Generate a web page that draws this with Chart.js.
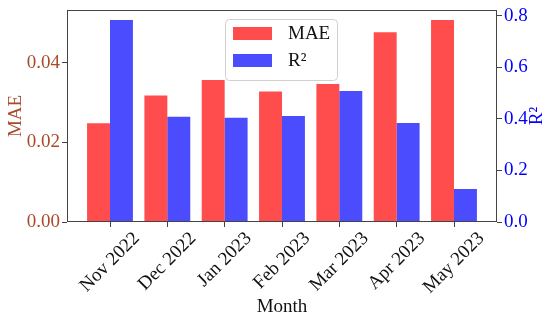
<!DOCTYPE html>
<html lang="en">
<head>
<meta charset="UTF-8">
<script src="https://cdn.jsdelivr.net/npm/chart.js"></script>
<title>MAE y R² por mes</title>
<style>
  html, body { margin: 0; padding: 0; background: #fff; }
</style>
</head>
<body>
<canvas id="grafico" width="550" height="322"></canvas>
<script>
// datos
const meses = ['Nov 2022', 'Dec 2022', 'Jan 2023', 'Feb 2023', 'Mar 2023', 'Apr 2023', 'May 2023'];
const mae = [0.0248, 0.0318, 0.0357, 0.0328, 0.0347, 0.0477, 0.0508];
const r2 = [0.783, 0.408, 0.404, 0.411, 0.508, 0.384, 0.128];
const ticksMae = [0, 0.02, 0.04];
const ticksR2 = [0, 0.2, 0.4, 0.6, 0.8];

const fuente = '"Liberation Serif", "Times New Roman", serif';
const rojo = 'rgba(255, 0, 0, 0.7)';
const azul = 'rgba(0, 0, 255, 0.7)';
const colorMae = '#a94a2a';
const colorR2 = '#0000ff';

function texto(ctx, t, x, y, angulo, align, base, color) {
    ctx.save();
    ctx.translate(x, y);
    ctx.rotate(angulo);
    ctx.textAlign = align;
    ctx.textBaseline = base;
    ctx.fillStyle = color;
    ctx.fillText(t, 0, 0);
    ctx.restore();
}

// marco, textos y leyenda
const extras = {
    id: 'extras',
    afterDatasetsDraw(chart) {
        const { ctx, chartArea: a, scales } = chart;
        ctx.save();
        ctx.strokeStyle = '#444';
        ctx.lineWidth = 1;
        ctx.strokeRect(a.left + 0.5, a.top + 0.5, a.right - a.left - 1, a.bottom - a.top - 1);
        ctx.font = `19px ${fuente}`;

        // etiquetas de meses
        meses.forEach((m, i) => {
            const x = scales.x.getPixelForValue(i);
            const lado = (ctx.measureText(m).width + 13) * Math.SQRT1_2;
            texto(ctx, m, x, a.bottom + 9 + lado / 2, -Math.PI / 4, 'center', 'middle', '#111');
        });
        texto(ctx, 'Month', (a.left + a.right) / 2, 307, 0, 'center', 'middle', '#111');

        // ticks de los ejes y
        ticksMae.forEach(v => texto(ctx, v.toFixed(2), a.left - 7, scales.y.getPixelForValue(v), 0, 'right', 'middle', colorMae));
        ticksR2.forEach(v => texto(ctx, v.toFixed(1), a.right + 7, scales.y1.getPixelForValue(v), 0, 'left', 'middle', colorR2));

        // titulos de los ejes y
        const medio = (a.top + a.bottom) / 2;
        texto(ctx, 'MAE', 21, medio, -Math.PI / 2, 'center', 'alphabetic', colorMae);
        texto(ctx, 'R²', 542, medio, -Math.PI / 2, 'center', 'alphabetic', colorR2);

        // leyenda
        ctx.beginPath();
        ctx.roundRect(225.5, 19.5, 112, 61, 4);
        ctx.fillStyle = 'rgba(255,255,255,0.8)';
        ctx.fill();
        ctx.strokeStyle = '#d0d0d0';
        ctx.stroke();
        chart.data.datasets.forEach((d, i) => {
            const y = 27 + i * 27;
            ctx.fillStyle = d.backgroundColor;
            ctx.fillRect(233, y, 39, 13);
            texto(ctx, d.label, 288, y + 7, 0, 'left', 'middle', '#111');
        });
        ctx.restore();
    }
};

const sinPadding = s => { s.paddingTop = 0; s.paddingBottom = 0; s.paddingLeft = 0; s.paddingRight = 0; };

new Chart(document.getElementById('grafico'), {
    type: 'bar',
    data: {
        datasets: [
            { label: 'MAE', data: mae.map((v, i) => ({ x: i, y: v })), backgroundColor: rojo, yAxisID: 'y' },
            { label: 'R²', data: r2.map((v, i) => ({ x: i, y: v })), backgroundColor: azul, yAxisID: 'y1' }
        ]
    },
    options: {
        responsive: false,
        animation: false,
        devicePixelRatio: 1,
        layout: { padding: { top: 10 } },
        plugins: { legend: { display: false }, tooltip: { enabled: false } },
        datasets: { bar: { categoryPercentage: 0.8, barPercentage: 1 } },
        scales: {
            x: {
                type: 'linear', min: -0.75, max: 6.75, offset: false,
                grid: { offset: false, drawOnChartArea: false, tickLength: 5, color: '#444' },
                border: { display: false },
                ticks: { display: false, stepSize: 1, includeBounds: false },
                afterBuildTicks: s => { s.ticks = meses.map((m, i) => ({ value: i })); },
                afterFit: s => { s.height = 100; sinPadding(s); }
            },
            y: {
                position: 'left', min: 0, max: 0.0533,
                grid: { drawOnChartArea: false, tickLength: 5, color: '#444' },
                border: { display: false },
                ticks: { display: false },
                afterBuildTicks: s => { s.ticks = ticksMae.map(v => ({ value: v })); },
                afterFit: s => { s.width = 67; sinPadding(s); }
            },
            y1: {
                position: 'right', min: 0, max: 0.822,
                grid: { drawOnChartArea: false, tickLength: 5, color: '#444' },
                border: { display: false },
                ticks: { display: false },
                afterBuildTicks: s => { s.ticks = ticksR2.map(v => ({ value: v })); },
                afterFit: s => { s.width = 53; sinPadding(s); }
            }
        }
    },
    plugins: [extras]
});
</script>
</body>
</html>
